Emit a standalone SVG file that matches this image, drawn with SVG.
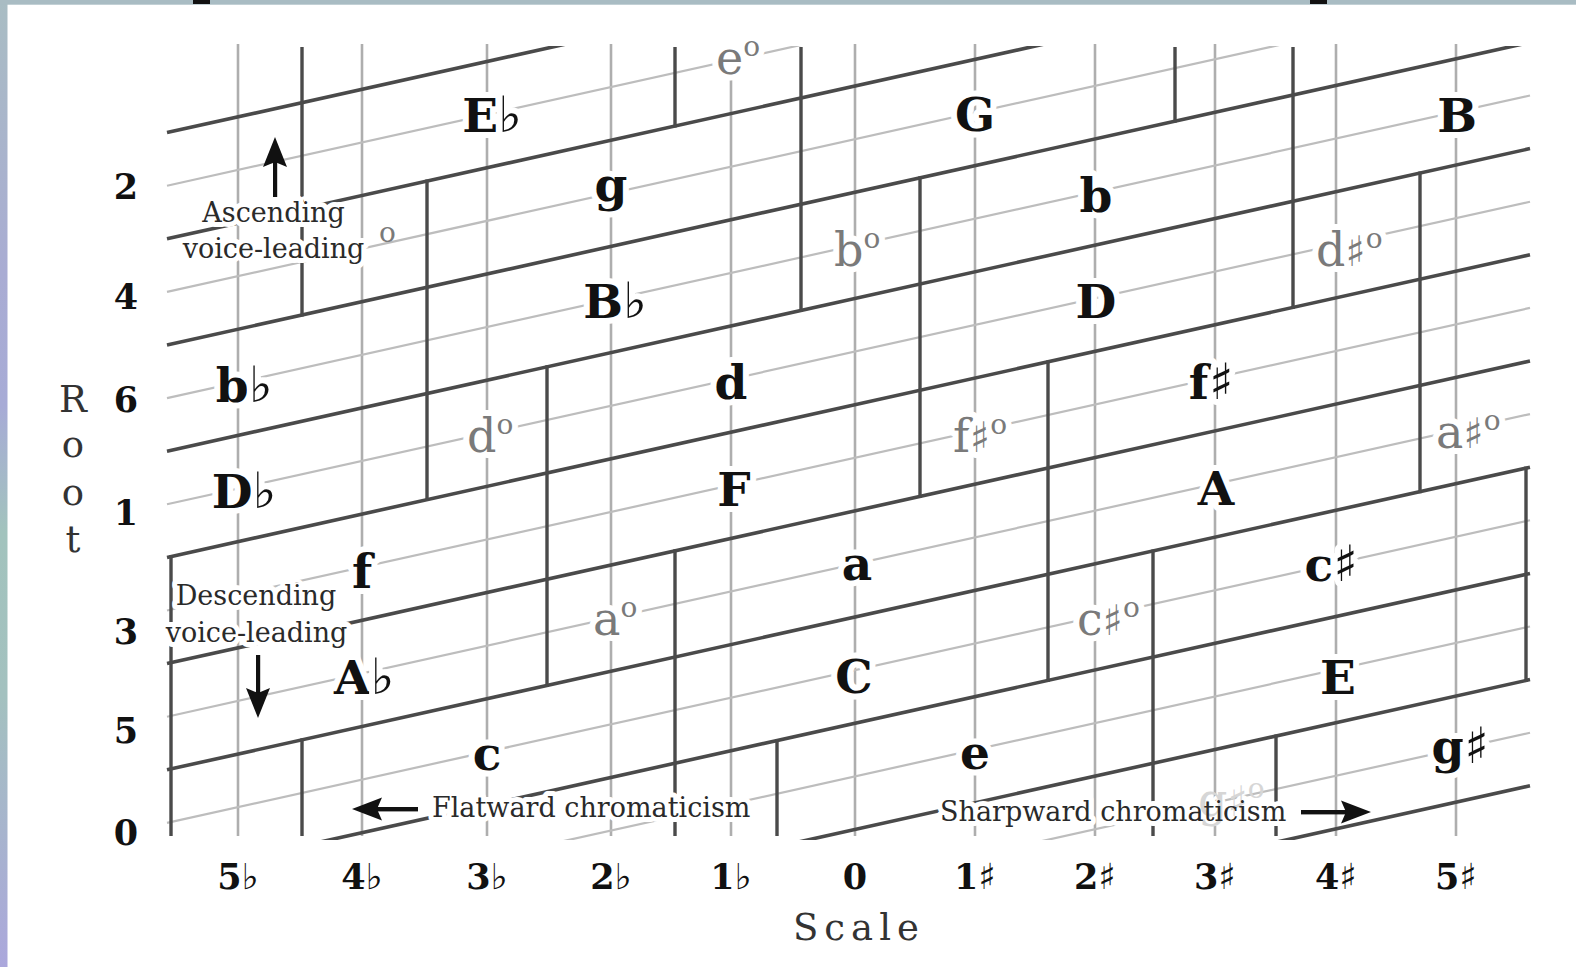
<svg xmlns="http://www.w3.org/2000/svg" width="1576" height="967" viewBox="0 0 1576 967">
<defs>
<linearGradient id="edge" x1="0" y1="0" x2="0" y2="1">
<stop offset="0" stop-color="#a9bdc3"/>
<stop offset="0.28" stop-color="#a9acd3"/>
<stop offset="0.42" stop-color="#a7abd6"/>
<stop offset="0.55" stop-color="#a2c3bd"/>
<stop offset="0.72" stop-color="#a3c1bf"/>
<stop offset="1" stop-color="#aba7dc"/>
</linearGradient>
<clipPath id="chart"><rect x="160" y="46" width="1376" height="794"/></clipPath>
<style>
.gv{stroke:#aeaeae;stroke-width:2.6}
.gs{stroke:#bdbdbd;stroke-width:2.2}
.tk{stroke:#4a4a4a;stroke-width:3.6}
.tv{stroke:#4a4a4a;stroke-width:3.4}
.lab{font-family:"DejaVu Serif","Liberation Serif",serif;font-size:47px;font-weight:bold;text-anchor:middle;fill:#111;stroke:#fff;stroke-width:12px;stroke-linejoin:round;paint-order:stroke}
.dim{font-family:"DejaVu Serif","Liberation Serif",serif;font-size:46px;fill:#7a7a7a;stroke:#fff;stroke-width:12px;stroke-linejoin:round;paint-order:stroke}
.acc{font-family:"DejaVu Sans",sans-serif;font-size:50px;font-weight:bold}
.dacc{font-family:"DejaVu Sans",sans-serif;font-size:42px;font-weight:normal}
.sacc{font-family:"DejaVu Sans",sans-serif;font-size:36px;font-weight:bold}
.sup{font-size:28px}
.num{font-family:"DejaVu Serif","Liberation Serif",serif;font-size:35px;font-weight:bold;text-anchor:middle;fill:#111}
.axis{font-family:"DejaVu Serif","Liberation Serif",serif;font-size:37px;fill:#333}
.ann{font-family:"DejaVu Serif","Liberation Serif",serif;font-size:27px;fill:#2a2a2a;stroke:#fff;stroke-width:10px;stroke-linejoin:round;paint-order:stroke}
.arr{fill:#111}
</style>
</defs>
<g id="frame">
<rect x="0" y="0" width="1576" height="967" fill="#fff"/>
<rect x="0" y="0" width="7.5" height="967" fill="url(#edge)"/>
<rect x="0" y="0" width="1576" height="4.7" fill="#a9bcc3"/>
<rect x="193" y="0" width="17" height="4" fill="#111"/>
<rect x="1310" y="0" width="17" height="4" fill="#111"/>
</g>
<g id="grid">
<g class="gv">
<line x1="238" y1="44" x2="238" y2="836"/>
<line x1="362" y1="44" x2="362" y2="836"/>
<line x1="487" y1="44" x2="487" y2="836"/>
<line x1="611" y1="44" x2="611" y2="836"/>
<line x1="731" y1="44" x2="731" y2="836"/>
<line x1="855" y1="44" x2="855" y2="836"/>
<line x1="975" y1="44" x2="975" y2="836"/>
<line x1="1095" y1="44" x2="1095" y2="836"/>
<line x1="1215" y1="44" x2="1215" y2="836"/>
<line x1="1336" y1="44" x2="1336" y2="836"/>
<line x1="1456" y1="44" x2="1456" y2="836"/>
</g>
<g class="gs" clip-path="url(#chart)">
<line x1="167" y1="185.7" x2="1530" y2="-116.9"/>
<line x1="167" y1="291.9" x2="1530" y2="-10.7"/>
<line x1="167" y1="398.1" x2="1530" y2="95.5"/>
<line x1="167" y1="504.3" x2="1530" y2="201.7"/>
<line x1="167" y1="610.5" x2="1530" y2="307.9"/>
<line x1="167" y1="716.7" x2="1530" y2="414.1"/>
<line x1="167" y1="822.9" x2="1530" y2="520.3"/>
<line x1="167" y1="929.1" x2="1530" y2="626.5"/>
<line x1="167" y1="1035.3" x2="1530" y2="732.7"/>
</g>
</g>
<g id="connectors">
<g class="tk" clip-path="url(#chart)">
<line x1="167" y1="132.6" x2="1530" y2="-170.0"/>
<line x1="167" y1="238.8" x2="1530" y2="-63.8"/>
<line x1="167" y1="345.0" x2="1530" y2="42.4"/>
<line x1="167" y1="451.2" x2="1530" y2="148.6"/>
<line x1="167" y1="557.4" x2="1530" y2="254.8"/>
<line x1="167" y1="663.6" x2="1530" y2="361.0"/>
<line x1="167" y1="769.8" x2="1530" y2="467.2"/>
<line x1="167" y1="876.0" x2="1530" y2="573.4"/>
<line x1="167" y1="982.2" x2="1530" y2="679.6"/>
<line x1="167" y1="1088.4" x2="1530" y2="785.8"/>
</g>
<g class="tv">
<line x1="171" y1="555" x2="171" y2="836"/>
<line x1="302" y1="47" x2="302" y2="316.5"/>
<line x1="302" y1="738.3" x2="302" y2="836"/>
<line x1="427" y1="179.5" x2="427" y2="501"/>
<line x1="547" y1="365.3" x2="547" y2="687"/>
<line x1="675" y1="47" x2="675" y2="127.5"/>
<line x1="675" y1="549.3" x2="675" y2="836"/>
<line x1="801" y1="47" x2="801" y2="312"/>
<line x1="777" y1="739" x2="777" y2="836"/>
<line x1="920" y1="176.3" x2="920" y2="498"/>
<line x1="1048" y1="360.3" x2="1048" y2="682"/>
<line x1="1175" y1="47" x2="1175" y2="122.7"/>
<line x1="1153" y1="549.4" x2="1153" y2="836"/>
<line x1="1293" y1="47" x2="1293" y2="309"/>
<line x1="1276" y1="734.5" x2="1276" y2="836"/>
<line x1="1420" y1="171.5" x2="1420" y2="493.2"/>
<line x1="1526" y1="466.6" x2="1526" y2="682"/>
</g>
</g>
<g id="chords">
<g id="chord-Eb"><text class="lab" x="492" y="131.8">E<tspan class="acc">♭</tspan></text></g>
<g id="chord-G"><text class="lab" x="975" y="130.5">G</text></g>
<g id="chord-B"><text class="lab" x="1457" y="131.5">B</text></g>
<g id="chord-g"><text class="lab" x="611" y="201">g</text></g>
<g id="chord-b"><text class="lab" x="1096" y="211.5">b</text></g>
<g id="chord-Bb"><text class="lab" x="615" y="318.3">B<tspan class="acc">♭</tspan></text></g>
<g id="chord-D"><text class="lab" x="1096" y="317.8">D</text></g>
<g id="chord-bb"><text class="lab" x="244" y="401.8">b<tspan class="acc">♭</tspan></text></g>
<g id="chord-d"><text class="lab" x="731" y="399.3">d</text></g>
<g id="chord-fs"><text class="lab" x="1211" y="398.9">f<tspan class="acc">♯</tspan></text></g>
<g id="chord-Db"><text class="lab" x="244" y="508.1">D<tspan class="acc">♭</tspan></text></g>
<g id="chord-F"><text class="lab" x="734" y="505.6">F</text></g>
<g id="chord-A"><text class="lab" x="1216" y="505.2">A</text></g>
<g id="chord-f"><text class="lab" x="362" y="588.3">f</text></g>
<g id="chord-a"><text class="lab" x="857" y="580.3">a</text></g>
<g id="chord-cs"><text class="lab" x="1331" y="581">c<tspan class="acc">♯</tspan></text></g>
<g id="chord-Ab"><text class="lab" x="364" y="694">A<tspan class="acc">♭</tspan></text></g>
<g id="chord-C"><text class="lab" x="854" y="692.5">C</text></g>
<g id="chord-E"><text class="lab" x="1338" y="694">E</text></g>
<g id="chord-c"><text class="lab" x="487" y="769.5">c</text></g>
<g id="chord-e"><text class="lab" x="975" y="768.5">e</text></g>
<g id="chord-gs"><text class="lab" x="1460" y="763">g<tspan class="acc">♯</tspan></text></g>
<g id="dim-e"><text class="dim" x="716" y="73.5">e<tspan class="sup" dy="-18">o</tspan></text></g>
<g id="dim-b"><text class="dim" x="834" y="265.5">b<tspan class="sup" dy="-18">o</tspan></text></g>
<g id="dim-ds"><text class="dim" x="1316" y="265.5">d<tspan class="dacc">♯</tspan><tspan class="sup" dy="-18">o</tspan></text></g>
<g id="dim-d"><text class="dim" x="467" y="452">d<tspan class="sup" dy="-18">o</tspan></text></g>
<g id="dim-fs"><text class="dim" x="953" y="451.5">f<tspan class="dacc">♯</tspan><tspan class="sup" dy="-18">o</tspan></text></g>
<g id="dim-as"><text class="dim" x="1436" y="447.5">a<tspan class="dacc">♯</tspan><tspan class="sup" dy="-18">o</tspan></text></g>
<g id="dim-a"><text class="dim" x="593" y="634.8">a<tspan class="sup" dy="-18">o</tspan></text></g>
<g id="dim-cs"><text class="dim" x="1077" y="634.8">c<tspan class="dacc">♯</tspan><tspan class="sup" dy="-18">o</tspan></text></g>
</g>
<g id="axes">
<text class="num" x="126" y="199">2</text>
<text class="num" x="126" y="309">4</text>
<text class="num" x="126" y="412">6</text>
<text class="num" x="126" y="525">1</text>
<text class="num" x="126" y="644">3</text>
<text class="num" x="126" y="743">5</text>
<text class="num" x="126" y="845">0</text>
<text class="axis" text-anchor="middle" x="73" y="412">R</text>
<text class="axis" text-anchor="middle" x="73" y="457">o</text>
<text class="axis" text-anchor="middle" x="73" y="505">o</text>
<text class="axis" text-anchor="middle" x="73" y="552">t</text>
<text class="num" x="238" y="889">5<tspan class="sacc">♭</tspan></text>
<text class="num" x="362" y="889">4<tspan class="sacc">♭</tspan></text>
<text class="num" x="487" y="889">3<tspan class="sacc">♭</tspan></text>
<text class="num" x="611" y="889">2<tspan class="sacc">♭</tspan></text>
<text class="num" x="731" y="889">1<tspan class="sacc">♭</tspan></text>
<text class="num" x="855" y="889">0</text>
<text class="num" x="975" y="889">1<tspan class="sacc">♯</tspan></text>
<text class="num" x="1095" y="889">2<tspan class="sacc">♯</tspan></text>
<text class="num" x="1215" y="889">3<tspan class="sacc">♯</tspan></text>
<text class="num" x="1336" y="889">4<tspan class="sacc">♯</tspan></text>
<text class="num" x="1456" y="889">5<tspan class="sacc">♯</tspan></text>
<text class="axis" x="793" y="940" letter-spacing="6">Scale</text>
</g>
<g id="annotations">
<text class="ann" x="273.5" y="222" text-anchor="middle">Ascending</text>
<text class="ann" x="273.5" y="258" text-anchor="middle">voice-leading</text>
<text class="dim" x="379" y="242" style="font-size:28px;stroke:none">o</text>
<text class="ann" x="256" y="605" text-anchor="middle">Descending</text>
<text class="ann" x="256.5" y="642" text-anchor="middle">voice-leading</text>
<text class="ann" x="432" y="817">Flatward chromaticism</text>
<text class="ann" x="940" y="821" style="fill:none">Sharpward chromaticism</text>
<text class="dim" x="1198" y="816" style="fill:#d6d6d6;stroke:none">g<tspan class="dacc">♯</tspan><tspan class="sup" dy="-18">o</tspan></text>
<text class="ann" x="940" y="821" style="stroke:none">Sharpward chromaticism</text>
<g id="arrow-up"><rect class="arr" x="273" y="158" width="4.2" height="39"/><path class="arr" d="M275,137 L287,167 L275,162 L263,167 Z"/></g>
<g id="arrow-down"><rect class="arr" x="256" y="655" width="4.2" height="40"/><path class="arr" d="M258,718 L246,688 L258,693 L270,688 Z"/></g>
<g id="arrow-left"><rect class="arr" x="377" y="807" width="41" height="4.4"/><path class="arr" d="M352,809 L382,797.5 L377,809 L382,820.5 Z"/></g>
<g id="arrow-right"><rect class="arr" x="1301" y="810" width="46" height="4.4"/><path class="arr" d="M1371,812 L1341,800.5 L1346,812 L1341,823.5 Z"/></g>
</g>
</svg>
